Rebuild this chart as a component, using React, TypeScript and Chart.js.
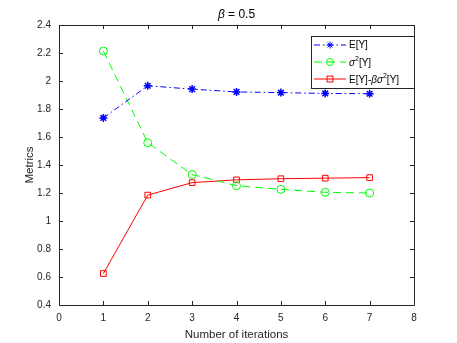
import React, { useEffect, useRef } from "react";
import { Chart, registerables } from "chart.js";

Chart.register(...registerables);

const iterations = [1, 2, 3, 4, 5, 6, 7];
const expectedY = [1.736, 1.966, 1.942, 1.922, 1.917, 1.911, 1.909];
const varianceY = [2.214, 1.559, 1.332, 1.252, 1.226, 1.205, 1.2];
const objectiveY = [0.625, 1.185, 1.274, 1.294, 1.302, 1.306, 1.31];
const xTicks = [0, 1, 2, 3, 4, 5, 6, 7, 8];
const yTicks = [0.4, 0.6, 0.8, 1, 1.2, 1.4, 1.6, 1.8, 2, 2.2, 2.4];

const FONT = "'Liberation Sans', Arial, Helvetica, sans-serif";
const AXIS_COLOR = "#262626";

const toPoints = (ys: number[]) => iterations.map((x, i) => ({ x, y: ys[i] }));

const framePlugin = {
  id: "matlabFrame",
  afterDraw(chart: any) {
    const { ctx, chartArea: a, scales } = chart;
    const xs = scales.x;
    const ys = scales.y;
    ctx.save();
    ctx.strokeStyle = AXIS_COLOR;
    ctx.lineWidth = 1;
    ctx.beginPath();
    ctx.rect(Math.round(a.left) + 0.5, Math.round(a.top) + 0.5, Math.round(a.right - a.left), Math.round(a.bottom - a.top));
    ctx.stroke();
    const tl = 4;
    ctx.beginPath();
    xTicks.forEach((v) => {
      const px = Math.round(xs.getPixelForValue(v)) + 0.5;
      ctx.moveTo(px, a.bottom);
      ctx.lineTo(px, a.bottom - tl);
      ctx.moveTo(px, a.top);
      ctx.lineTo(px, a.top + tl);
    });
    yTicks.forEach((v) => {
      const py = Math.round(ys.getPixelForValue(v)) + 0.5;
      ctx.moveTo(a.left, py);
      ctx.lineTo(a.left + tl, py);
      ctx.moveTo(a.right, py);
      ctx.lineTo(a.right - tl, py);
    });
    ctx.stroke();

    // Title
    const cx = (a.left + a.right) / 2;
    const ty = 15;
    ctx.fillStyle = "#000";
    ctx.textBaseline = "middle";
    ctx.font = `italic 12px ${FONT}`;
    const b = "β";
    const bw = ctx.measureText(b).width;
    ctx.font = `12px ${FONT}`;
    const rest = " = 0.5";
    const rw = ctx.measureText(rest).width;
    const start = cx - (bw + rw) / 2;
    ctx.font = `italic 12px ${FONT}`;
    ctx.textAlign = "left";
    ctx.fillText(b, start, ty);
    ctx.font = `12px ${FONT}`;
    ctx.fillText(rest, start + bw, ty);

    // Legend
    const lx = 311.5, ly = 36.5, lw = 103, lh = 52;
    ctx.fillStyle = "#fff";
    ctx.fillRect(lx, ly, lw, lh);
    ctx.strokeStyle = AXIS_COLOR;
    ctx.lineWidth = 1;
    ctx.strokeRect(lx, ly, lw, lh);
    const rows = chart.data.datasets;
    rows.forEach((ds: any, i: number) => {
      const ry = 45 + i * 17;
      ctx.save();
      ctx.strokeStyle = ds.borderColor;
      ctx.lineWidth = 1;
      ctx.setLineDash(ds.borderDash || []);
      ctx.beginPath();
      ctx.moveTo(314, ry);
      ctx.lineTo(346, ry);
      ctx.stroke();
      ctx.setLineDash([]);
      const mx = 330;
      const r = 3.5;
      ctx.strokeStyle = ds.pointBorderColor;
      ctx.beginPath();
      if (ds.pointStyle === "star") {
        ctx.moveTo(mx - r, ry); ctx.lineTo(mx + r, ry);
        ctx.moveTo(mx, ry - r); ctx.lineTo(mx, ry + r);
        const d = r * 0.7;
        ctx.moveTo(mx - d, ry - d); ctx.lineTo(mx + d, ry + d);
        ctx.moveTo(mx - d, ry + d); ctx.lineTo(mx + d, ry - d);
      } else if (ds.pointStyle === "circle") {
        ctx.arc(mx, ry, r, 0, Math.PI * 2);
      } else {
        ctx.rect(mx - 3, ry - 3, 6, 6);
      }
      ctx.stroke();
      ctx.restore();
      ctx.fillStyle = "#000";
      ctx.textAlign = "left";
      ctx.textBaseline = "middle";
      ctx.font = `10px ${FONT}`;
      const tx = 349;
      if (i === 0) {
        ctx.fillText("E[Y]", tx, ry);
      } else if (i === 1) {
        ctx.font = `italic 10px ${FONT}`;
        ctx.fillText("σ", tx, ry + 1);
        const sw = ctx.measureText("σ").width;
        ctx.font = `7px ${FONT}`;
        ctx.fillText("2", tx + sw, ry - 3);
        const w2 = ctx.measureText("2").width;
        ctx.font = `10px ${FONT}`;
        ctx.fillText("[Y]", tx + sw + w2, ry + 1);
      } else {
        let x = tx;
        ctx.font = `10px ${FONT}`;
        ctx.fillText("E[Y]-", x, ry + 1);
        x += ctx.measureText("E[Y]-").width;
        ctx.font = `italic 10px ${FONT}`;
        ctx.fillText("βσ", x, ry + 1);
        x += ctx.measureText("βσ").width;
        ctx.font = `7px ${FONT}`;
        ctx.fillText("2", x, ry - 3);
        x += ctx.measureText("2").width;
        ctx.font = `10px ${FONT}`;
        ctx.fillText("[Y]", x, ry + 1);
      }
    });
    ctx.restore();
  },
};

export default function App() {
  const ref = useRef<HTMLCanvasElement | null>(null);
  useEffect(() => {
    if (!ref.current) return;
    const chart = new Chart(ref.current, {
      type: "line",
      data: {
        datasets: [
          {
            label: "E[Y]",
            data: toPoints(expectedY),
            borderColor: "#0000FF",
            borderWidth: 1,
            borderDash: [6, 3, 1.5, 3],
            pointStyle: "star",
            pointRadius: 4,
            pointBorderColor: "#0000FF",
            pointBorderWidth: 1.5,
            pointBackgroundColor: "#0000FF",
          },
          {
            label: "σ²[Y]",
            data: toPoints(varianceY),
            borderColor: "#00FF00",
            borderWidth: 1,
            borderDash: [8, 5],
            pointStyle: "circle",
            pointRadius: 4,
            pointBorderColor: "#00FF00",
            pointBorderWidth: 1,
            pointBackgroundColor: "rgba(0,0,0,0)",
          },
          {
            label: "E[Y]-βσ²[Y]",
            data: toPoints(objectiveY),
            borderColor: "#FF0000",
            borderWidth: 1,
            pointStyle: "rect",
            pointRadius: 4,
            pointBorderColor: "#FF0000",
            pointBorderWidth: 1,
            pointBackgroundColor: "rgba(0,0,0,0)",
          },
        ],
      },
      options: {
        animation: false,
        responsive: false,
        devicePixelRatio: 1,
        layout: { padding: { top: 25, right: 43, left: 0, bottom: 0 } },
        plugins: {
          legend: { display: false },
          title: { display: false },
          tooltip: { enabled: false },
        },
        scales: {
          x: {
            type: "linear",
            min: 0,
            max: 8,
            afterBuildTicks: (s: any) => {
              s.ticks = xTicks.map((v) => ({ value: v }));
            },
            afterFit: (s: any) => {
              s.height = 38;
            },
            grid: { display: false, drawTicks: false },
            border: { display: false },
            ticks: {
              color: AXIS_COLOR,
              font: { family: FONT, size: 10 },
              padding: 7,
              maxRotation: 0,
              callback: (v: any) => String(v),
            },
            title: {
              display: true,
              text: "Number of iterations",
              color: AXIS_COLOR,
              font: { family: FONT, size: 11.5 },
              padding: { top: 0, bottom: 1 },
            },
          },
          y: {
            type: "linear",
            min: 0.4,
            max: 2.4,
            afterBuildTicks: (s: any) => {
              s.ticks = yTicks.map((v) => ({ value: v }));
            },
            afterFit: (s: any) => {
              s.width = 59;
            },
            grid: { display: false, drawTicks: false },
            border: { display: false },
            ticks: {
              color: AXIS_COLOR,
              font: { family: FONT, size: 10 },
              padding: 8,
              callback: (v: any) => String(Number(Number(v).toFixed(1))),
            },
            title: {
              display: true,
              text: "Metrics",
              color: AXIS_COLOR,
              font: { family: FONT, size: 11.5 },
              padding: { top: 23, bottom: 0 },
            },
          },
        },
      },
      plugins: [framePlugin],
    });
    return () => chart.destroy();
  }, []);
  return (
    <div style={{ position: "fixed", left: 0, top: 0, width: 457, height: 343, background: "#fff" }}>
      <canvas ref={ref} width={457} height={343} style={{ width: 457, height: 343, display: "block" }} />
    </div>
  );
}
